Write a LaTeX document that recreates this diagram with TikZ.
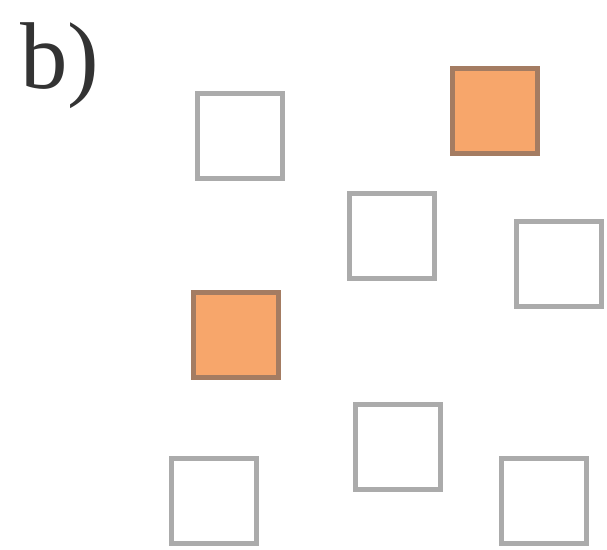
\documentclass[tikz,border=0pt]{standalone}
\usepackage{fontspec}
\setmainfont{Liberation Serif}
\usepackage{xcolor}
\definecolor{cellorange}{HTML}{F7A66B}
\definecolor{cellbrown}{HTML}{A47C62}
\definecolor{cellgray}{HTML}{ABABAB}
\usepackage{tikz}

\begin{document}
\begin{tikzpicture}[
  x=0.02cm, y=-0.02cm,
  cell/.style={draw=cellgray,fill=white,line width=0.1cm,
    minimum size=1.7cm,inner sep=0pt},
  hit/.style={cell,draw=cellbrown,fill=cellorange},
  tag/.style={font=\fontsize{54}{64}\selectfont,inner sep=0pt,anchor=base west,
    text=black!80}
]
  \useasboundingbox (0,0) rectangle (607,549);
  % Panel label
  \node[tag] (lbl) at (20,88) {b)};
  % Empty cells
  \node[cell] (c1) at (240,136) {};
  \node[cell] (c2) at (392,236) {};
  \node[cell] (c3) at (559,264) {};
  \node[cell] (c4) at (398,447) {};
  \node[cell] (c5) at (214,501) {};
  \node[cell] (c6) at (544,501) {};
  % Filled cells
  \node[hit]  (h1) at (495,111) {};
  \node[hit]  (h2) at (236,335) {};
\end{tikzpicture}
\end{document}
